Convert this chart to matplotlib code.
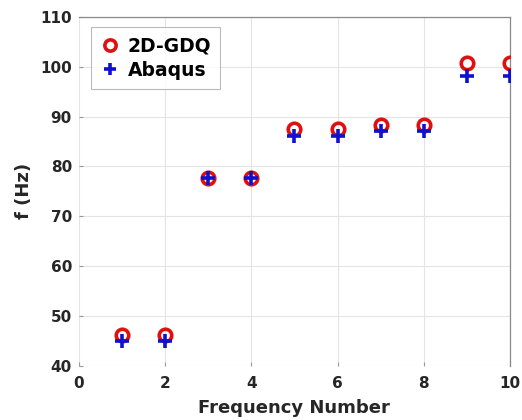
import matplotlib
matplotlib.use("Agg")
import matplotlib.pyplot as plt

# mode numbers and natural frequencies (Hz)
mode_no = [1, 2, 3, 4, 5, 6, 7, 8, 9, 10]
f_gdq = [46.1, 46.1, 77.7, 77.7, 87.5, 87.5, 88.2, 88.2, 100.8, 100.8]
f_abaqus = [44.9, 44.9, 77.6, 77.6, 86.1, 86.1, 87.0, 87.0, 98.1, 98.1]

x_ticks = [0, 2, 4, 6, 8, 10]
y_ticks = [40, 50, 60, 70, 80, 90, 100, 110]

plt.rcParams["font.family"] = ["DejaVu Sans"]
plt.rcParams["font.weight"] = "bold"

fig = plt.figure(figsize=(5.22, 4.20), dpi=100)
ax = fig.add_axes([0.151, 0.129, 0.826, 0.831])

ax.plot(mode_no, f_gdq, linestyle="none", marker="o", markersize=9,
        markerfacecolor="none", markeredgecolor="#e01010", markeredgewidth=2.6,
        label="2D-GDQ", zorder=3)
ax.plot(mode_no, f_abaqus, linestyle="none", marker="+", markersize=9.5,
        markeredgecolor="#1010d0", markeredgewidth=2.6,
        label="Abaqus", zorder=4)

ax.set_xlim(0, 10)
ax.set_ylim(40, 110)
ax.set_xticks(x_ticks)
ax.set_yticks(y_ticks)
ax.grid(True, color="#e4e4e4", linewidth=0.8)
ax.set_axisbelow(True)

ax.tick_params(direction="in", length=3, width=0.8, color="#999999",
               labelsize=11, labelcolor="#262626")
ax.tick_params(axis="x", pad=7)
ax.tick_params(axis="y", pad=5)
for lbl in ax.get_xticklabels() + ax.get_yticklabels():
    lbl.set_fontweight("bold")

for side in ("left", "bottom"):
    ax.spines[side].set_visible(False)
for side in ("top", "right"):
    ax.spines[side].set_color("#8a8a8a")
    ax.spines[side].set_linewidth(0.9)

ax.set_xlabel("Frequency Number", fontsize=13, fontweight="bold",
              color="#262626", labelpad=6)
ax.set_ylabel("f (Hz)", fontsize=13, fontweight="bold", color="#262626",
              labelpad=5)

leg = ax.legend(loc="upper left", bbox_to_anchor=(0.028, 0.971),
                prop={"weight": "bold", "size": 13.5}, frameon=True,
                fancybox=False, edgecolor="#aaaaaa", handlelength=1.0,
                handletextpad=0.45, borderpad=0.5, borderaxespad=0,
                labelspacing=0.3, markerscale=0.9)
leg.get_frame().set_linewidth(0.8)

fig.savefig("out.png", dpi=100)
